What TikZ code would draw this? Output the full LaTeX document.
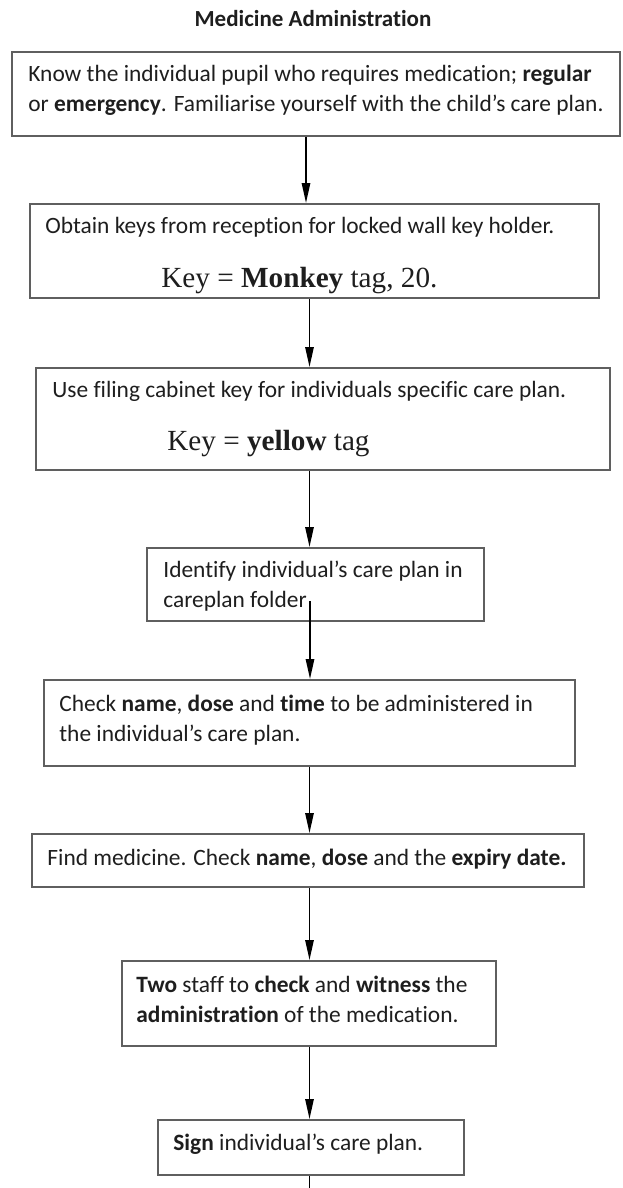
\documentclass[tikz,border=0pt]{standalone}
\usepackage{fontspec}
\setmainfont{Carlito}[Ligatures={NoCommon,NoRare,NoContextual}]
\newfontfamily\keyfont{Liberation Serif}
\usetikzlibrary{arrows.meta,fit}
\definecolor{boxgray}{RGB}{95,95,95}
\definecolor{ink}{RGB}{30,30,30}
\begin{document}
\begin{tikzpicture}[x=0.5pt,y=-0.5pt,
  box/.style={draw=boxgray,line width=1pt,inner sep=0pt,fill=none},
  txt/.style={anchor=base west,inner sep=0pt,text=ink,font=\fontsize{11.7pt}{15pt}\selectfont},
  keytxt/.style={anchor=base west,inner sep=0pt,text=ink,font=\keyfont\fontsize{14.6pt}{17pt}\selectfont},
  arr/.style={draw=black,line width=0.8pt,-{Triangle[length=10pt,width=4.2pt]}},
  plain/.style={draw=black,line width=0.8pt}]
\useasboundingbox (0,0) rectangle (622,1188);
\fill[white] (0,0) rectangle (622,1188);
% title
\node[anchor=base,inner sep=0pt,text=ink,font=\fontsize{11.5pt}{14pt}\selectfont\bfseries] (title) at (313,27) {Medicine Administration};
% boxes
\node[box,fit={(12,52) (620,136)}] (b1) {};
\node[box,fit={(30,204) (599,298)}] (b2) {};
\node[box,fit={(36,368) (610,470)}] (b3) {};
\node[box,fit={(147,548) (484,621)}] (b4) {};
\node[box,fit={(44,680) (575,766)}] (b5) {};
\node[box,fit={(32,834) (584,887)}] (b6) {};
\node[box,fit={(122,961) (496,1046)}] (b7) {};
\node[box,fit={(158,1120) (464,1175)}] (b8) {};
% texts
\node[txt] (t1a) at (28,82) {Know the individual pupil who requires medication; \textbf{regular}};
\node[txt] (t1b) at (28,112) {or \textbf{emergency}. Familiarise yourself with the child’s care plan.};
\node[txt] (t2a) at (45,233) {Obtain keys from reception for locked wall key holder.};
\node[keytxt] (t2b) at (161,287) {Key = \textbf{Monkey} tag, 20.};
\node[txt] (t3a) at (52,397) {Use filing cabinet key for individuals specific care plan.};
\node[keytxt] (t3b) at (167,450) {Key = \textbf{yellow} tag};
\node[txt] (t4a) at (163,577) {Identify individual’s care plan in};
\node[txt] (t4b) at (163,607) {careplan folder};
\node[txt] (t5a) at (59,711) {Check \textbf{name}, \textbf{dose} and \textbf{time} to be administered in};
\node[txt] (t5b) at (59,741) {the individual’s care plan.};
\node[txt] (t6) at (47,865) {Find medicine. Check \textbf{name}, \textbf{dose} and the \textbf{expiry date.}};
\node[txt] (t7a) at (136,992) {\textbf{Two} staff to \textbf{check} and \textbf{witness} the};
\node[txt] (t7b) at (136,1022) {\textbf{administration} of the medication.};
\node[txt] (t8) at (173,1150) {\textbf{Sign} individual’s care plan.};
% connector guides
\coordinate (x1) at (306,0);
\coordinate (x2) at (309.5,0);
\coordinate (s4) at (310,601);
\coordinate (bottomend) at (309.5,1188);
% connectors
\draw[arr] (b1.south -| x1) -- (b2.north -| x1);
\draw[arr] (b2.south -| x2) -- (b3.north -| x2);
\draw[arr] (b3.south -| x2) -- (b4.north -| x2);
\draw[arr] (s4) -- (b5.north -| s4);
\draw[arr] (b5.south -| x2) -- (b6.north -| x2);
\draw[arr] (b6.south -| x2) -- (b7.north -| x2);
\draw[arr] (b7.south -| x2) -- (b8.north -| x2);
\draw[plain] (b8.south -| bottomend) -- (bottomend);
\end{tikzpicture}
\end{document}
